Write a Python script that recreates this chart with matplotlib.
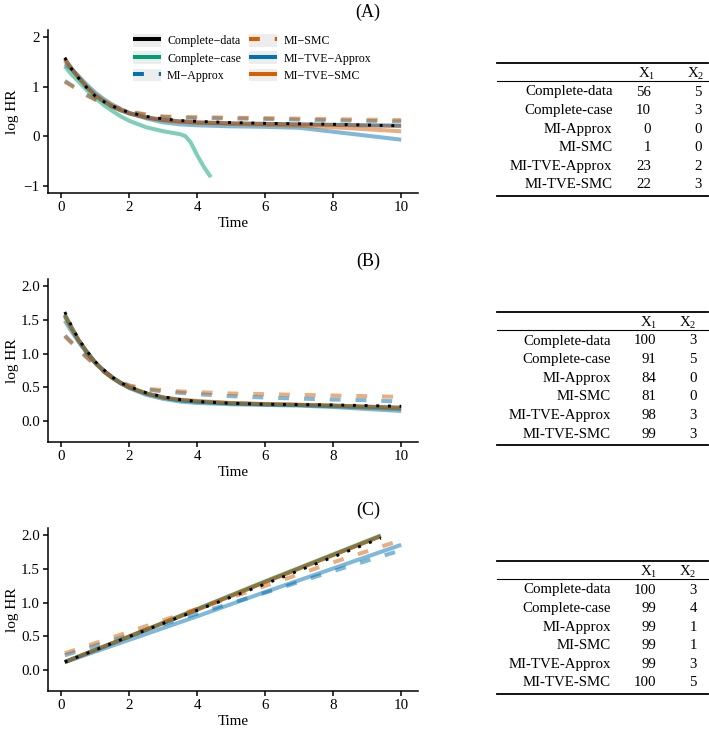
import matplotlib
matplotlib.use('Agg')
import matplotlib.pyplot as plt
from matplotlib.legend_handler import HandlerLine2D
from matplotlib.patches import Rectangle
from matplotlib.lines import Line2D

plt.rcParams['font.family'] = ['Liberation Serif', 'DejaVu Serif']
plt.rcParams['mathtext.fontset'] = 'custom'
plt.rcParams['mathtext.rm'] = 'Liberation Serif'
plt.rcParams['mathtext.it'] = 'Liberation Serif:italic'

# ---- data ----
methods = ['Complete-data', 'Complete-case', 'MI-Approx', 'MI-SMC', 'MI-TVE-Approx', 'MI-TVE-SMC']
colors = ['#000000', '#009E73', '#0072B2', '#D55E00', '#0072B2', '#D55E00']
dashed = [False, False, True, True, False, False]

t_grid = [0.1, 0.3, 0.5, 0.75, 1.0, 1.25, 1.5, 1.75, 2.0, 2.5, 3.0, 3.5, 4.0, 5.0, 6.0, 7.0, 8.0, 9.0, 10.0]

# panel A
a_true = [1.59, 1.36, 1.18, 0.98, 0.81, 0.70, 0.61, 0.54, 0.48, 0.40, 0.35, 0.315, 0.30, 0.275, 0.26, 0.25, 0.24, 0.225, 0.21]
a_cd = [1.57, 1.37, 1.19, 0.99, 0.82, 0.70, 0.60, 0.52, 0.46, 0.38, 0.33, 0.30, 0.28, 0.26, 0.25, 0.24, 0.23, 0.22, 0.21]
a_cc_t = [0.1, 0.3, 0.5, 0.75, 1.0, 1.25, 1.5, 1.75, 2.0, 2.5, 3.0, 3.5, 3.65, 3.8, 4.0, 4.2, 4.4]
a_cc = [1.41, 1.25, 1.11, 0.93, 0.77, 0.63, 0.51, 0.40, 0.31, 0.18, 0.10, 0.04, 0.0, -0.12, -0.39, -0.63, -0.83]
a_mia = [1.12, 1.03, 0.94, 0.83, 0.74, 0.67, 0.60, 0.54, 0.49, 0.43, 0.39, 0.375, 0.37, 0.36, 0.35, 0.335, 0.32, 0.31, 0.30]
a_smc = [1.10, 1.02, 0.93, 0.83, 0.74, 0.67, 0.60, 0.55, 0.50, 0.44, 0.40, 0.39, 0.385, 0.375, 0.365, 0.355, 0.345, 0.335, 0.325]
a_tvea = [1.46, 1.35, 1.22, 1.04, 0.88, 0.75, 0.64, 0.55, 0.47, 0.36, 0.28, 0.24, 0.22, 0.20, 0.19, 0.17, 0.09, 0.01, -0.07]
a_tves = [1.52, 1.36, 1.20, 1.00, 0.84, 0.72, 0.62, 0.54, 0.47, 0.38, 0.32, 0.29, 0.27, 0.25, 0.23, 0.21, 0.18, 0.14, 0.10]

# panel B
b_true = [1.62, 1.41, 1.22, 1.04, 0.88, 0.76, 0.65, 0.57, 0.51, 0.42, 0.36, 0.32, 0.29, 0.265, 0.25, 0.245, 0.24, 0.23, 0.22]
b_cd = [1.58, 1.39, 1.21, 1.03, 0.87, 0.75, 0.65, 0.57, 0.50, 0.41, 0.35, 0.31, 0.29, 0.265, 0.25, 0.24, 0.23, 0.215, 0.20]
b_cc = [1.57, 1.38, 1.20, 1.02, 0.86, 0.74, 0.64, 0.56, 0.50, 0.41, 0.35, 0.31, 0.29, 0.26, 0.25, 0.24, 0.22, 0.20, 0.18]
b_mia = [1.27, 1.17, 1.07, 0.95, 0.84, 0.74, 0.65, 0.58, 0.52, 0.47, 0.44, 0.42, 0.40, 0.37, 0.35, 0.335, 0.32, 0.31, 0.29]
b_smc = [1.26, 1.16, 1.06, 0.94, 0.83, 0.73, 0.65, 0.58, 0.53, 0.48, 0.46, 0.44, 0.43, 0.41, 0.40, 0.39, 0.38, 0.37, 0.36]
b_tvea = [1.49, 1.33, 1.18, 1.01, 0.86, 0.74, 0.64, 0.56, 0.49, 0.39, 0.33, 0.29, 0.27, 0.25, 0.24, 0.23, 0.21, 0.18, 0.15]
b_tves = [1.55, 1.37, 1.20, 1.02, 0.86, 0.74, 0.64, 0.56, 0.50, 0.41, 0.35, 0.32, 0.30, 0.27, 0.255, 0.245, 0.23, 0.21, 0.19]

# panel C
c_t_short = [0.1, 2, 4, 6, 8, 9.4]
c_t_long = [0.1, 2, 4, 6, 8, 10]
c_true = [0.12, 0.50, 0.89, 1.28, 1.68, 1.96]
c_cd = [0.12, 0.50, 0.90, 1.31, 1.71, 1.99]
c_cc = [0.12, 0.50, 0.91, 1.32, 1.72, 2.00]
c_mia = [0.22, 0.52, 0.84, 1.15, 1.47, 1.78]
c_smc = [0.25, 0.57, 0.91, 1.25, 1.60, 1.93]
c_tvea = [0.12, 0.45, 0.80, 1.16, 1.51, 1.86]
c_tves = [0.12, 0.50, 0.90, 1.31, 1.71, 1.99]

# tables
tab_a_x1 = [56, 10, 0, 1, 23, 22]
tab_a_x2 = [5, 3, 0, 0, 2, 3]
tab_b_x1 = [100, 91, 84, 81, 98, 99]
tab_b_x2 = [3, 5, 0, 0, 3, 3]
tab_c_x1 = [100, 99, 99, 99, 99, 100]
tab_c_x2 = [3, 4, 1, 1, 3, 5]

panels = [
    dict(tag='(A)', true=(t_grid, a_true),
         curves=[(t_grid, a_cd), (a_cc_t, a_cc), (t_grid, a_mia), (t_grid, a_smc), (t_grid, a_tvea), (t_grid, a_tves)],
         ylim=(-1.15, 2.15), yticks=[-1, 0, 1, 2], yfmt='{:.0f}',
         x1=tab_a_x1, x2=tab_a_x2),
    dict(tag='(B)', true=(t_grid, b_true),
         curves=[(t_grid, b_cd), (t_grid, b_cc), (t_grid, b_mia), (t_grid, b_smc), (t_grid, b_tvea), (t_grid, b_tves)],
         ylim=(-0.31, 2.11), yticks=[0, 0.5, 1.0, 1.5, 2.0], yfmt='{:.1f}',
         x1=tab_b_x1, x2=tab_b_x2),
    dict(tag='(C)', true=(c_t_short, c_true),
         curves=[(c_t_short, c_cd), (c_t_short, c_cc), (c_t_long, c_mia), (c_t_long, c_smc), (c_t_long, c_tvea), (c_t_short, c_tves)],
         ylim=(-0.31, 2.11), yticks=[0, 0.5, 1.0, 1.5, 2.0], yfmt='{:.1f}',
         x1=tab_c_x1, x2=tab_c_x2),
]

W, H = 709, 732
fig = plt.figure(figsize=(W / 100, H / 100), dpi=100)


def fx(px):
    return px / W


def fy(py):
    return 1 - py / H


class GreyKey(HandlerLine2D):
    def create_artists(self, legend, orig_handle, xdescent, ydescent, width, height, fontsize, trans):
        arts = super().create_artists(legend, orig_handle, xdescent, ydescent, width, height, fontsize, trans)
        bg = Rectangle((-xdescent, -ydescent), width, height, transform=trans,
                       facecolor='#EDEDED', edgecolor='none')
        return [bg] + list(arts)


dash_pat = (0, (2.7, 3.7))
ax_tops = [30, 279, 528]
ax_left, ax_right, ax_h = 48, 418, 163
lab_right = [612.5, 611, 611]
c1_right = [651, 656, 656]
c2_right = [702, 697, 697]
h1_right = [655, 657, 657]
h2_right = [704, 696, 696]

for k, p in enumerate(panels):
    top = ax_tops[k]
    ax = fig.add_axes([fx(ax_left), fy(top + ax_h), (ax_right - ax_left) / W, ax_h / H])
    for i, (tt, yy) in enumerate(p['curves']):
        ax.plot(tt, yy, color=colors[i], lw=2.9, alpha=0.5,
                linestyle=dash_pat if dashed[i] else '-',
                solid_capstyle='butt', dash_capstyle='butt')
    ax.plot(p['true'][0], p['true'][1], color='black', lw=2.1,
            linestyle=(0, (1, 3)), dash_capstyle='butt')
    ax.set_xlim(-0.395, 10.495)
    ax.set_ylim(*p['ylim'])
    ax.set_xticks([0, 2, 4, 6, 8, 10])
    ax.set_yticks(p['yticks'])
    ax.set_yticklabels([p['yfmt'].format(v).replace('-', '\u2212') for v in p['yticks']])
    for s in ['top', 'right']:
        ax.spines[s].set_visible(False)
    for s in ['left', 'bottom']:
        ax.spines[s].set_linewidth(1.1)
    ax.tick_params(direction='out', length=3.5, width=1.1, labelsize=10.8, pad=2.5, colors='black')
    ax.set_xlabel('Time', fontsize=10.8)
    ax.set_ylabel('log HR', fontsize=11)
    ax.xaxis.set_label_coords(0.5, -0.15)
    ax.yaxis.set_label_coords(-0.078, 0.5)

    fig.text(fx(368), fy(top - 18), p['tag'], ha='center', va='center', fontsize=13)

    if k == 0:
        handles = [Line2D([], [], color=colors[i], lw=2.9,
                          linestyle=dash_pat if dashed[i] else '-',
                          solid_capstyle='butt', dash_capstyle='butt')
                   for i in range(len(methods))]
        labels = [m.replace('-', '\u2212') for m in methods]
        ax.legend(handles, labels, ncol=2, loc='upper left',
                  bbox_to_anchor=((133 - ax_left) / (ax_right - ax_left), 1 - 4 / ax_h),
                  frameon=False, fontsize=8.6, handlelength=2.35, handleheight=1.25,
                  labelspacing=0.34, handletextpad=0.5, columnspacing=0.68,
                  borderpad=0, borderaxespad=0,
                  handler_map={Line2D: GreyKey()})

    # table
    tt = top + 33
    for ypx, lw in [(tt, 1.3), (tt + 17.5, 0.8), (tt + 132.5, 1.3)]:
        fig.add_artist(Line2D([fx(497), fx(708)], [fy(ypx)] * 2, color='black', lw=lw,
                              transform=fig.transFigure))
    fs = 10.7
    fig.text(fx(h1_right[k]), fy(tt + 10.5), r'$\mathrm{X}_{1}$', ha='right', va='center', fontsize=fs)
    fig.text(fx(h2_right[k]), fy(tt + 10.5), r'$\mathrm{X}_{2}$', ha='right', va='center', fontsize=fs)
    for r, name in enumerate(methods):
        yr = fy(tt + 29 + r * 18.6)
        fig.text(fx(lab_right[k]), yr, name, ha='right', va='center', fontsize=fs)
        fig.text(fx(c1_right[k]), yr, str(p['x1'][r]), ha='right', va='center', fontsize=fs)
        fig.text(fx(c2_right[k]), yr, str(p['x2'][r]), ha='right', va='center', fontsize=fs)

fig.savefig('out.png', dpi=100)
